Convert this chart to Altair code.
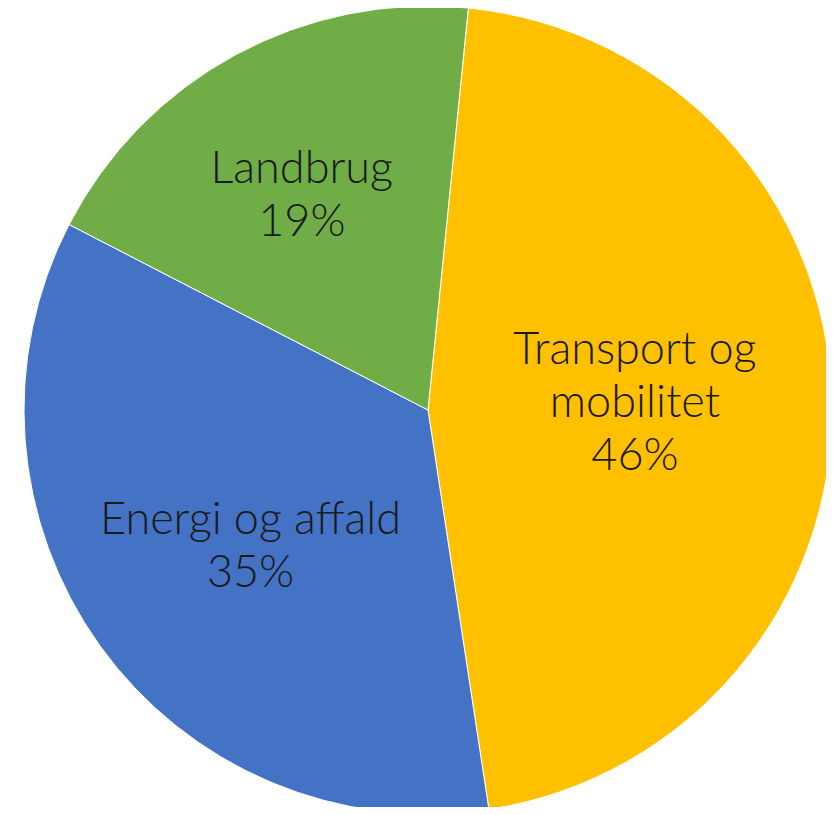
import math
import altair as alt
import pandas as pd

categories = ["Transport og mobilitet", "Energi og affald", "Landbrug"]
label_lines = ["Transport og\nmobilitet", "Energi og affald", "Landbrug"]
values = [46, 35, 19]
colors = ["#FFC000", "#4472C4", "#70AD47"]

df = pd.DataFrame({
    "category": categories,
    "label": label_lines,
    "value": values,
    "idx": list(range(len(categories))),
})

start = 0.1
theta_scale = alt.Scale(domain=[0, 100], range=[start, start + 2 * math.pi])
cx, cy = 420, 402
font = "Lato"
fs = 45
lh = 53

base = alt.Chart(df)

arcs = base.mark_arc(radius=404, stroke="white", strokeWidth=1).encode(
    theta=alt.Theta("value:Q", stack=True, scale=theta_scale),
    color=alt.Color("category:N", scale=alt.Scale(domain=categories, range=colors), legend=None),
    order=alt.Order("idx:Q"),
    x=alt.value(cx),
    y=alt.value(cy),
)

def text_layer(cat, r, nlines, dx=0, dy=0):
    return base.transform_window(
        cum="sum(value)", sort=[{"field": "idx"}], frame=[None, 0]
    ).transform_calculate(
        mid="datum.cum - datum.value / 2",
        txt="datum.label + '\\n' + datum.value + '%'",
    ).transform_filter(
        alt.datum.category == cat
    ).mark_text(
        radius=r, lineBreak="\n", font=font, fontSize=fs, fontWeight=300,
        lineHeight=lh, align="center", baseline="middle", color="#1a1a1a",
        dx=dx, dy=-(nlines - 1) / 2 * lh + dy,
    ).encode(
        theta=alt.Theta("mid:Q", stack=None, scale=theta_scale),
        text="txt:N",
        x=alt.value(cx),
        y=alt.value(cy),
    )

texts = [
    text_layer(categories[0], 205, 3, dx=2, dy=-2),
    text_layer(categories[1], 232, 2, dx=11, dy=1),
    text_layer(categories[2], 250, 2, dx=-7, dy=5),
]

chart = alt.layer(arcs, *texts).properties(
    width=818, height=799, padding=0, autosize="none", background="white"
).configure_view(stroke="white", strokeWidth=0, fill="white")

chart.save("out.html", embed_options={"renderer": "svg", "actions": False})
